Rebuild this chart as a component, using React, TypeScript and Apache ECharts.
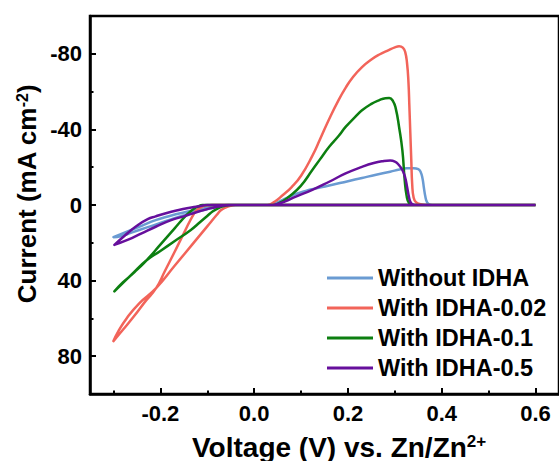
import React, { useEffect, useRef } from "react";
import * as echarts from "echarts";

const FONT = "'Liberation Sans', Arial, Helvetica, sans-serif";

const seriesNames = ["Without IDHA", "With IDHA-0.02", "With IDHA-0.1", "With IDHA-0.5"];
const seriesColors = ["#6A9BD2", "#F2645A", "#0C7F10", "#660F9C"];

const xMajorTicks = [-0.2, 0.0, 0.2, 0.4, 0.6];
const xMinorTicks = [-0.3, -0.1, 0.1, 0.3, 0.5];
const yMajorTicks = [-80, -40, 0, 40, 80];
const yMinorTicks = [-60, -20, 20, 60];

// Without IDHA
const voltBlue = [0.6, -0.055, -0.08, -0.1, -0.12, -0.15, -0.18, -0.21, -0.24, -0.27, -0.3, -0.285, -0.26, -0.23, -0.2, -0.17, -0.14, -0.11, -0.08, -0.05, -0.03, 0.03, 0.045, 0.06, 0.075, 0.089, 0.11, 0.124, 0.16, 0.2, 0.23, 0.26, 0.29, 0.31, 0.325, 0.34, 0.35, 0.355, 0.359, 0.362, 0.365, 0.368, 0.372, 0.38, 0.6];
const curBlue = [0, 0, 0.6, 1.5, 2.5, 4, 5.8, 8, 11, 14, 17, 16.5, 14.5, 12, 9.5, 7, 4.8, 2.8, 1.2, 0.2, 0, 0, -1, -2.6, -4.3, -5.8, -7.5, -8.4, -10.3, -12.6, -14.3, -16, -17.6, -18.8, -19.4, -19.5, -19, -17.5, -14, -9, -4.5, -1.8, -0.5, 0, 0];

// With IDHA-0.02
const voltRed = [0.6, -0.09, -0.1, -0.11, -0.12, -0.128, -0.15, -0.17, -0.19, -0.209, -0.232, -0.255, -0.278, -0.3, -0.29, -0.272, -0.245, -0.209, -0.17, -0.13, -0.1, -0.08, -0.071, -0.06, -0.05, -0.04, 0.028, 0.045, 0.06, 0.08, 0.1, 0.124, 0.14, 0.16, 0.18, 0.195, 0.21, 0.23, 0.25, 0.266, 0.287, 0.3, 0.309, 0.317, 0.322, 0.326, 0.329, 0.331, 0.333, 0.335, 0.337, 0.34, 0.345, 0.355, 0.37, 0.6];
const curRed = [0, 0, 0.2, 0.8, 2.2, 4.4, 15, 25, 34.8, 44, 51, 58.5, 65.5, 72, 67, 60, 52, 44, 32.3, 20.3, 11.3, 5.3, 2.8, 1.2, 0.4, 0, 0, -2, -5, -9.5, -15.5, -26, -34.5, -45.5, -55.5, -62, -67.5, -73, -77, -79.5, -82, -83.4, -84, -83.3, -81, -75, -65, -52, -38, -24, -11, -4, -1.5, -0.4, 0, 0];

// With IDHA-0.1
const voltGreen = [0.6, -0.11, -0.12, -0.13, -0.145, -0.17, -0.2, -0.23, -0.255, -0.28, -0.298, -0.285, -0.26, -0.23, -0.2, -0.17, -0.135, -0.115, -0.1, -0.088, -0.075, -0.062, -0.05, 0.04, 0.055, 0.074, 0.099, 0.124, 0.14, 0.16, 0.18, 0.195, 0.215, 0.23, 0.25, 0.266, 0.28, 0.288, 0.296, 0.302, 0.309, 0.316, 0.321, 0.325, 0.33, 0.338, 0.345, 0.6];
const curGreen = [0, 0, 0.8, 2.2, 5.5, 12.5, 21, 29.4, 35.5, 41, 45.7, 42.5, 36.5, 29.4, 24.3, 19.2, 13.2, 9, 5.8, 3.3, 1.5, 0.4, 0, 0, -1.2, -4.4, -10, -18.5, -24, -30.8, -36.5, -41.3, -46.5, -50.1, -53.5, -55.4, -56.5, -56.6, -55, -51, -41.3, -29, -13.2, -5, -1.2, -0.2, 0, 0];

// With IDHA-0.5
const voltPurple = [0.6, -0.1, -0.12, -0.14, -0.163, -0.19, -0.21, -0.227, -0.25, -0.275, -0.298, -0.27, -0.24, -0.21, -0.177, -0.15, -0.12, -0.1, -0.085, -0.07, -0.057, -0.045, 0.035, 0.05, 0.065, 0.089, 0.124, 0.16, 0.195, 0.23, 0.255, 0.275, 0.29, 0.3, 0.308, 0.316, 0.322, 0.326, 0.33, 0.334, 0.34, 0.348, 0.6];
const curPurple = [0, 0, 0.8, 1.6, 2.8, 4.5, 6, 7.5, 11, 16, 21.1, 18.5, 15, 11.5, 8, 6, 3.6, 2.2, 1.3, 0.5, 0.1, 0, 0, -0.6, -1.8, -4.4, -8, -12.3, -16.7, -20.2, -22.2, -23.2, -23.5, -23, -21.3, -18.5, -14.5, -9.7, -4.4, -1.3, -0.2, 0, 0];

const voltData = [voltBlue, voltRed, voltGreen, voltPurple];
const curData = [curBlue, curRed, curGreen, curPurple];

const zip = (xs: number[], ys: number[]) => xs.map((x, i) => [x, ys[i]]);

export default function App() {
  const ref = useRef<HTMLDivElement>(null);
  useEffect(() => {
    if (!ref.current) return;
    const chart = echarts.init(ref.current, null, { renderer: "svg" });
    const axisLineStyle = { color: "#000", width: 2.5 };
    const tickStyle = { color: "#000", width: 2 };
    const labelStyle = { fontSize: 22, fontWeight: "bold" as const, color: "#000", fontFamily: FONT };
    chart.setOption({
      animation: false,
      backgroundColor: "#fff",
      grid: {
        left: 90,
        top: 16,
        width: 470,
        height: 378,
        show: true,
        borderColor: "#000",
        borderWidth: 2.5,
        backgroundColor: "transparent",
      },
      legend: {
        orient: "vertical",
        left: 327,
        top: 266,
        padding: 0,
        icon: "rect",
        itemWidth: 46,
        itemHeight: 3,
        itemGap: 6,
        data: seriesNames,
        textStyle: { fontSize: 23.5, fontWeight: "bold", color: "#000", fontFamily: FONT },
      },
      xAxis: [
        {
          type: "value",
          min: -0.35,
          max: 0.65,
          position: "bottom",
          axisLine: { show: true, onZero: false, lineStyle: axisLineStyle },
          axisTick: { show: true, inside: true, length: 6, lineStyle: tickStyle, customValues: xMajorTicks },
          axisLabel: { ...labelStyle, margin: 8, customValues: xMajorTicks, formatter: (v: number) => v.toFixed(1) },
          splitLine: { show: false },
        },
        {
          type: "value",
          min: -0.35,
          max: 0.65,
          position: "bottom",
          axisLine: { show: false, onZero: false },
          axisTick: { show: true, inside: true, length: 3.5, lineStyle: tickStyle, customValues: xMinorTicks },
          axisLabel: { show: false },
          splitLine: { show: false },
        },
      ],
      yAxis: [
        {
          type: "value",
          min: -100,
          max: 100,
          inverse: true,
          position: "left",
          axisLine: { show: true, onZero: false, lineStyle: axisLineStyle },
          axisTick: { show: true, inside: true, length: 6, lineStyle: tickStyle, customValues: yMajorTicks },
          axisLabel: { ...labelStyle, margin: 8, customValues: yMajorTicks, formatter: (v: number) => String(v) },
          splitLine: { show: false },
        },
        {
          type: "value",
          min: -100,
          max: 100,
          inverse: true,
          position: "left",
          axisLine: { show: false, onZero: false },
          axisTick: { show: true, inside: true, length: 3.5, lineStyle: tickStyle, customValues: yMinorTicks },
          axisLabel: { show: false },
          splitLine: { show: false },
        },
      ],
      graphic: [
        {
          type: "text",
          x: 192,
          y: 447,
          style: {
            text: "{a|Voltage (V) vs. Zn/Zn}{s|2+}",
            verticalAlign: "middle",
            align: "left",
            fill: "#000",
            rich: {
              a: { fontSize: 28, fontWeight: "bold", fontFamily: FONT, fill: "#000" },
              s: { fontSize: 17, fontWeight: "bold", fontFamily: FONT, fill: "#000", verticalAlign: "top" },
            },
          },
        },
        {
          type: "text",
          x: 27,
          y: 194,
          rotation: Math.PI / 2,
          style: {
            text: "{a|Current (mA cm}{s|-2}{a|)}",
            align: "center",
            verticalAlign: "middle",
            fill: "#000",
            rich: {
              a: { fontSize: 26, fontWeight: "bold", fontFamily: FONT, fill: "#000" },
              s: { fontSize: 16, fontWeight: "bold", fontFamily: FONT, fill: "#000", verticalAlign: "top" },
            },
          },
        },
      ],
      series: seriesNames.map((name, i) => ({
        name,
        type: "line",
        xAxisIndex: 0,
        yAxisIndex: 0,
        data: zip(voltData[i], curData[i]),
        symbol: "none",
        smooth: 0.5,
        lineStyle: { color: seriesColors[i], width: 2.5, join: "round" },
        itemStyle: { color: seriesColors[i] },
        z: 2 + i,
      })),
    });
    return () => chart.dispose();
  }, []);
  return (
    <div
      ref={ref}
      style={{ position: "absolute", left: 0, top: 0, width: 559, height: 461 }}
    />
  );
}
